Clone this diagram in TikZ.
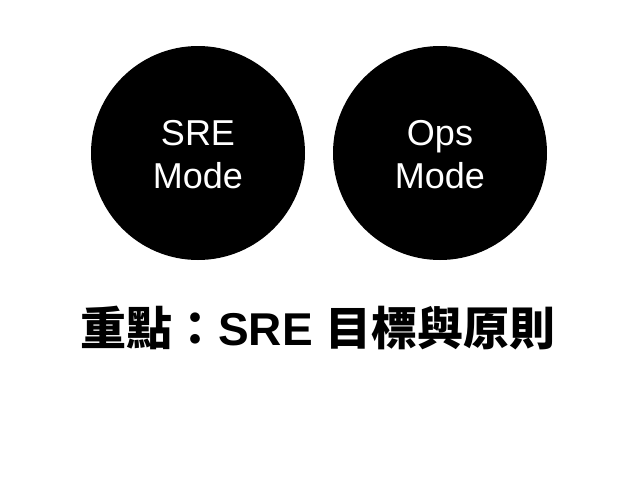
\documentclass[tikz,border=0pt]{standalone}
\usepackage{fontspec}
\setmainfont{Liberation Sans}
\newfontfamily\cjk{Noto Sans CJK TC}
\begin{document}
\begin{tikzpicture}[x=1pt,y=-1pt,
  bubble/.style={circle,fill=black,minimum size=214pt,inner sep=0pt},
  btext/.style={text=white,font=\fontsize{36}{43}\selectfont,align=center}]
\useasboundingbox (0,0) rectangle (638,479);
\node[bubble] (c1) at (198,153) {};
\node[bubble] (c2) at (440,153) {};
\node[btext] (t1) at (198,155) {SRE\\Mode};
\node[btext] (t2) at (440,155) {Ops\\Mode};
\node[font=\fontsize{46}{52}\selectfont\bfseries] (title) at (318,328) {{\cjk 重點：}SRE {\cjk 目標與原則}};
\end{tikzpicture}
\end{document}
